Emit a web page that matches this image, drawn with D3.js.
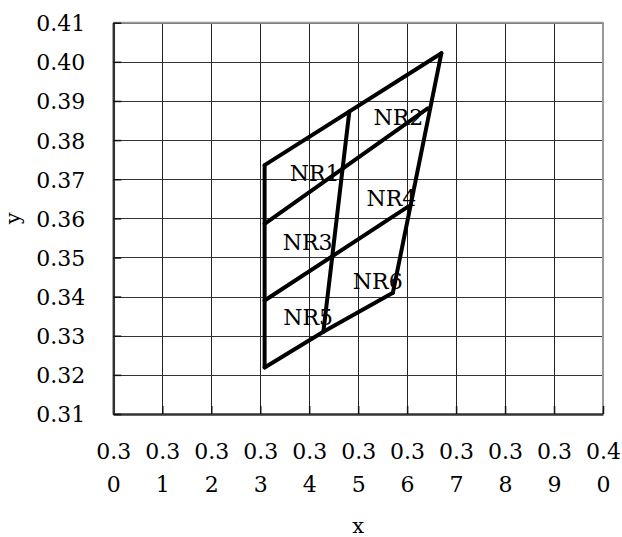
<!DOCTYPE html>
<html><head><meta charset="utf-8">
<script src="https://cdn.jsdelivr.net/npm/d3@7"></script>
<style>
html,body{margin:0;padding:0;background:#fff;}
svg{display:block;}
text{font-family:"DejaVu Serif",serif;fill:#000;}
</style></head>
<body><svg id="chart" width="622" height="537"></svg>
<script>
// ---- data ----
const xTickValues = [0.30,0.31,0.32,0.33,0.34,0.35,0.36,0.37,0.38,0.39,0.40];
const xTickLabels = ["0.30","0.31","0.32","0.33","0.34","0.35","0.36","0.37","0.38","0.39","0.40"];
const yTickValues = [0.31,0.32,0.33,0.34,0.35,0.36,0.37,0.38,0.39,0.40,0.41];
const yTickLabels = ["0.31","0.32","0.33","0.34","0.35","0.36","0.37","0.38","0.39","0.40","0.41"];

const leftEdge      = [[0.3309,0.3219],[0.3309,0.3736]];
const topEdge       = [[0.3309,0.3736],[0.3670,0.4022]];
const rightEdge     = [[0.3670,0.4022],[0.3571,0.3410]];
const bottomEdge    = [[0.3309,0.3219],[0.3429,0.3310],[0.3571,0.3410]];
const upperDivider  = [[0.3309,0.3586],[0.3642,0.3881]];
const lowerDivider  = [[0.3309,0.3390],[0.3602,0.3630]];
const middleDivider = [[0.3482,0.3873],[0.3429,0.3310]];

const regionNames = ["NR1","NR2","NR3","NR4","NR5","NR6"];
const regionX     = [0.3411,0.3582,0.3397,0.3568,0.3398,0.3540];
const regionY     = [0.3716,0.3859,0.3540,0.3653,0.3348,0.3440];

// ---- layout ----
const L = 113.3, R = 603, T = 22.7, B = 414;
const x = d3.scaleLinear().domain([0.30,0.40]).range([L,R]);
const y = d3.scaleLinear().domain([0.31,0.41]).range([B,T]);
const svg = d3.select("#chart");

// grid
const grid = svg.append("g");
grid.selectAll("line.gx").data(xTickValues).join("line")
  .attr("x1",d=>Math.round(x(d))+0.5).attr("x2",d=>Math.round(x(d))+0.5)
  .attr("y1",T).attr("y2",B).attr("stroke","#222").attr("stroke-width",1);
grid.selectAll("line.gy").data(yTickValues).join("line")
  .attr("y1",d=>Math.round(y(d))+0.5).attr("y2",d=>Math.round(y(d))+0.5)
  .attr("x1",L).attr("x2",R).attr("stroke","#333").attr("stroke-width",1);

// frame: top/right gray
svg.append("line").attr("x1",L).attr("x2",R).attr("y1",T).attr("y2",T).attr("stroke","#999").attr("stroke-width",2);
svg.append("line").attr("x1",R).attr("x2",R).attr("y1",T).attr("y2",B).attr("stroke","#999").attr("stroke-width",2);

// axes
const xAxis = d3.axisBottom(x).tickValues(xTickValues).tickSize(-8).tickSizeOuter(0)
  .tickFormat((d,i)=>xTickLabels[i]);
const gx = svg.append("g").attr("transform",`translate(0,${B})`).call(xAxis);
gx.select(".domain").attr("stroke","#333").attr("stroke-width",2.5);
gx.selectAll(".tick line").attr("stroke","#111").attr("stroke-width",1.5);
gx.selectAll(".tick text").each(function(d,i){
  const s = xTickLabels[i];
  const t = d3.select(this).text(null).attr("font-size",22).attr("font-family","DejaVu Serif").attr("y",0).attr("dy",null);
  t.append("tspan").attr("x",0).attr("y",45).text(s.slice(0,3));
  t.append("tspan").attr("x",0).attr("y",78).text(s.slice(3));
});

const yAxis = d3.axisLeft(y).tickValues(yTickValues).tickSize(-8).tickSizeOuter(0).tickPadding(28)
  .tickFormat((d,i)=>yTickLabels[i]);
const gy = svg.append("g").attr("transform",`translate(${L},0)`).call(yAxis);
gy.select(".domain").attr("stroke","#333").attr("stroke-width",2.5);
gy.selectAll(".tick line").attr("stroke","#111").attr("stroke-width",1.5);
gy.selectAll(".tick text").attr("font-size",22).attr("font-family","DejaVu Serif").attr("dy","0.36em");

// axis titles
svg.append("text").attr("x",(L+R)/2).attr("y",533).attr("text-anchor","middle").attr("font-size",21).text("x");
svg.append("text").attr("transform",`translate(20,${(T+B)/2}) rotate(-90)`).attr("text-anchor","middle").attr("font-size",21).text("y");

// region labels (drawn beneath the lines)
svg.append("g").selectAll("text").data(regionNames).join("text")
  .attr("x",(d,i)=>x(regionX[i])).attr("y",(d,i)=>y(regionY[i]))
  .attr("dy","0.36em").attr("text-anchor","middle").attr("font-size",22).text(d=>d);

// region lines
const line = d3.line().x(d=>x(d[0])).y(d=>y(d[1]));
const paths = [leftEdge, topEdge, rightEdge, bottomEdge, upperDivider, lowerDivider, middleDivider];
svg.append("g").selectAll("path").data(paths).join("path")
  .attr("d",line).attr("fill","none").attr("stroke","#000").attr("stroke-width",4)
  .attr("stroke-linecap","round").attr("stroke-linejoin","round");
</script></body></html>
